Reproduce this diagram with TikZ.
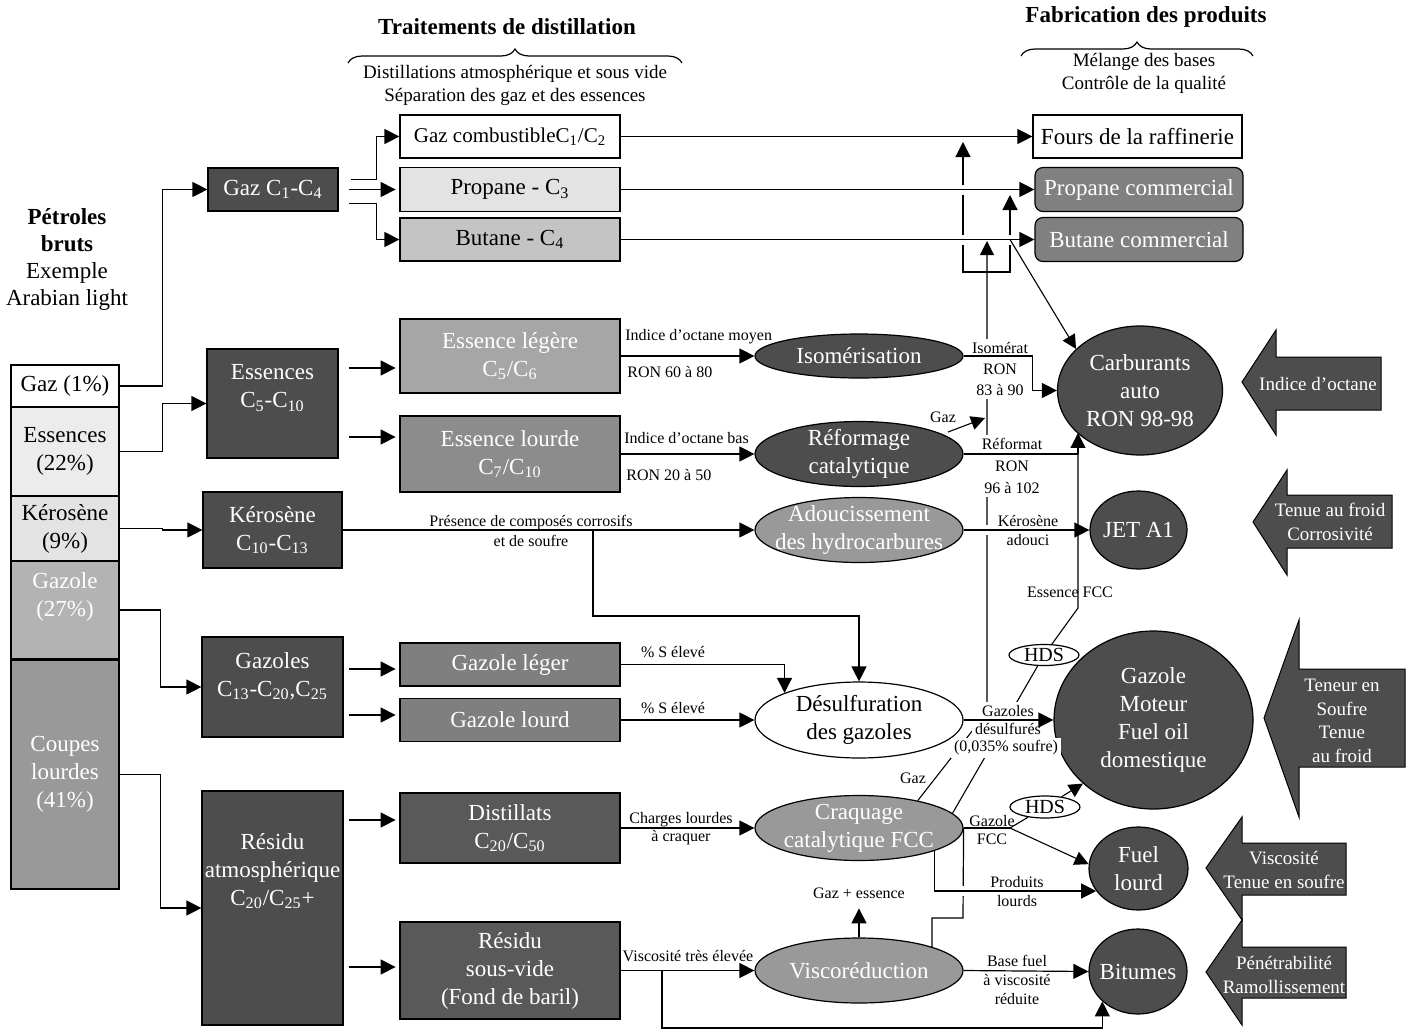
\documentclass[tikz,border=0pt]{standalone}
\usepackage{fontspec}
\setmainfont{Liberation Serif}
\usepackage{tikz}
\usetikzlibrary{arrows.meta,calc,positioning,shapes.geometric,decorations.pathreplacing}
\definecolor{darkfill}{HTML}{4D4D4D}
\definecolor{midfill}{HTML}{999999}
\definecolor{prodfill}{HTML}{808080}
\definecolor{distfill}{HTML}{595959}
\definecolor{gzfill}{HTML}{7F7F7F}
\definecolor{elegfill}{HTML}{A6A6A6}
\definecolor{eloufill}{HTML}{8C8C8C}
\definecolor{cthreefill}{HTML}{E3E3E3}
\definecolor{cfourfill}{HTML}{C4C4C4}
\definecolor{essfill}{HTML}{ECECEC}
\definecolor{kerfill}{HTML}{E3E3E3}
\definecolor{gzlfill}{HTML}{B3B3B3}
\tikzset{
  unit/.style={draw,line width=0.6pt,align=center,inner sep=1pt,
    font=\fontsize{11.5}{14}\selectfont},
  crudecut/.style={unit,minimum width=54pt},
  darkbox/.style={unit,fill=darkfill,text=white},
  boxtext/.style={align=center,inner sep=0pt,text=white,
    font=\fontsize{11.5}{14}\selectfont},
  basebox/.style={unit,minimum width=110pt},
  proc/.style={unit,ellipse,minimum width=104pt,inner xsep=-8pt,inner ysep=-8pt},
  prod/.style={unit,ellipse,fill=darkfill,text=white,inner sep=-8pt},
  hds/.style={unit,ellipse,fill=white,inner sep=0pt,minimum width=35pt,
    minimum height=10.5pt,font=\fontsize{10}{12}\selectfont},
  flowtag/.style={font=\fontsize{8}{9.5}\selectfont,inner sep=1pt,align=center},
  masktag/.style={flowtag,fill=white,inner sep=1.5pt},
  headtext/.style={font=\fontsize{11.5}{14}\selectfont\bfseries},
  subhead/.style={font=\fontsize{9.5}{11.5}\selectfont,align=center},
  flow/.style={-{Triangle[length=7.5pt,width=7.5pt]},line width=0.6pt},
  flowboth/.style={{Triangle[length=7.5pt,width=7.5pt]}-{Triangle[length=7.5pt,width=7.5pt]},line width=0.6pt},
  thinflow/.style={-{Triangle[length=7pt,width=7pt]},line width=0.55pt},
  link/.style={line width=0.6pt},
  thinlink/.style={line width=0.55pt},
  jump/.style={preaction={draw=white,line width=5pt,-,shorten <=4pt,shorten >=4pt}},
  hbrace/.style={decorate,decoration={brace,amplitude=7pt},line width=0.6pt},
  attr/.style={fill=darkfill,draw=black,line width=0.5pt},
  attrtext/.style={text=white,align=center,inner sep=0pt,font=\fontsize{9.5}{12}\selectfont}
}

\begin{document}
\begin{tikzpicture}[x=0.5pt,y=-0.5pt]
  \useasboundingbox (0,0) rectangle (1409,1035);
  % Headers
  \node[headtext] (hdist) at (507,27) {Traitements de distillation};
  \draw[hbrace] (348,63) -- (682,63);
  \node[subhead] (sdist) at (515,85) {Distillations atmosphérique et sous vide\\Séparation des gaz et des essences};
  \node[headtext] (hfab) at (1146,17) {Fabrication des produits};
  \draw[hbrace] (1021,56) -- (1253,56);
  \node[subhead] (sfab) at (1144,73.5) {Mélange des bases\\Contrôle de la qualité};
  \node[align=center,font=\fontsize{11.5}{13.5}\selectfont] (crude) at (67,259) {\textbf{Pétroles}\\\textbf{bruts}\\Exemple\\Arabian light};

  % Crude oil cuts
  \node[crudecut,minimum height=21pt] (gaz1) at (65,386) {Gaz (1\%)};
  \node[crudecut,fill=essfill,minimum height=44.5pt] (ess22) at (65,451.5) {Essences\\(22\%)};
  \node[crudecut,fill=kerfill,minimum height=32.5pt] (ker9) at (65,528.5) {Kérosène\\(9\%)};
  \node[crudecut,fill=gzlfill,minimum height=49pt] (gaz27) at (65,610) {};
  \node[boxtext] (gaz27t) at (65,597) {Gazole\\(27\%)};
  \node[crudecut,fill=midfill,text=white,minimum height=114.5pt] (coupes) at (65,774.5) {Coupes\\lourdes\\(41\%)};

  % Distillation cuts
  \node[darkbox,minimum width=65pt,minimum height=21.5pt] (gazc) at (273,189.5) {Gaz C\textsubscript{1}-C\textsubscript{4}};
  \node[darkbox,minimum width=65.5pt,minimum height=54.5pt] (ess) at (272.5,403.5) {};
  \node[boxtext] (esst) at (272.5,388) {Essences\\C\textsubscript{5}-C\textsubscript{10}};
  \node[darkbox,minimum width=69.5pt,minimum height=38pt] (kero) at (272.5,530) {Kérosène\\C\textsubscript{10}-C\textsubscript{13}};
  \node[darkbox,minimum width=70.5pt,minimum height=50pt] (gazs) at (272.5,687) {};
  \node[boxtext] (gazst) at (272.5,676) {Gazoles\\C\textsubscript{13}-C\textsubscript{20},C\textsubscript{25}};
  \node[darkbox,minimum width=70.5pt,minimum height=117pt] (resa) at (272.5,908) {};
  \node[boxtext] (resat) at (272.5,871) {Résidu\\atmosphérique\\C\textsubscript{20}/C\textsubscript{25}+};

  % Bases
  \node[basebox,minimum height=21.5pt,font=\fontsize{10.5}{14}\selectfont] (gcomb) at (510,136.5) {Gaz combustibleC\textsubscript{1}/C\textsubscript{2}};
  \node[basebox,fill=cthreefill,minimum height=22pt] (prop) at (510,189.5) {Propane - C\textsubscript{3}};
  \node[basebox,fill=cfourfill,minimum height=21.5pt] (but) at (510,239.5) {Butane - C\textsubscript{4}};
  \node[basebox,fill=elegfill,text=white,minimum height=37pt] (eleg) at (510,356) {Essence légère\\C\textsubscript{5}/C\textsubscript{6}};
  \node[basebox,fill=eloufill,text=white,minimum height=38pt] (elou) at (510,454) {Essence lourde\\C\textsubscript{7}/C\textsubscript{10}};
  \node[basebox,fill=gzfill,text=white,minimum height=21.5pt] (gleg) at (510,664.5) {Gazole léger};
  \node[basebox,fill=gzfill,text=white,minimum height=21.5pt] (glou) at (510,720) {Gazole lourd};
  \node[basebox,fill=distfill,text=white,minimum height=35pt] (dist) at (510,828) {Distillats\\C\textsubscript{20}/C\textsubscript{50}};
  \node[basebox,fill=distfill,text=white,minimum height=48.5pt] (rsv) at (510,970.5) {Résidu\\sous-vide\\(Fond de baril)};

  % Conversion units
  \node[proc,fill=darkfill,text=white,minimum height=22pt] (iso) at (859,356) {Isomérisation};
  \node[proc,fill=darkfill,text=white,minimum height=32.5pt] (refo) at (859,454) {Réformage\\catalytique};
  \node[proc,fill=midfill,text=white,minimum height=32.5pt] (adou) at (859,530) {Adoucissement\\des hydrocarbures};
  \node[proc,fill=white,minimum height=38pt] (desu) at (859,720) {Désulfuration\\des gazoles};
  \node[proc,fill=midfill,text=white,minimum height=32.5pt] (craq) at (859,828) {Craquage\\catalytique FCC};
  \node[proc,fill=midfill,text=white,minimum height=32.5pt] (visc) at (859,970.5) {Viscoréduction};
  \node[hds] (hdsup) at (1044,655) {HDS};
  \node[hds,minimum height=11pt] (hdslo) at (1045,807) {HDS};

  % Products
  \node[unit,minimum width=104.5pt,minimum height=21.5pt] (fours) at (1137.5,136.5) {Fours de la raffinerie};
  \node[unit,rounded corners=4pt,fill=prodfill,text=white,minimum width=104pt,minimum height=22pt] (propc) at (1139,189.5) {Propane commercial};
  \node[unit,rounded corners=4pt,fill=prodfill,text=white,minimum width=104pt,minimum height=22pt] (butc) at (1139,239.5) {Butane commercial};
  \node[prod,minimum width=82.5pt,minimum height=64.5pt] (carb) at (1140,390.5) {Carburants\\auto\\RON 98-98};
  \node[prod,minimum width=48.5pt,minimum height=39pt] (jet) at (1138.5,530) {JET A1};
  \node[prod,minimum width=99.5pt,minimum height=89pt] (gmot) at (1153.5,720) {Gazole\\Moteur\\Fuel oil\\domestique};
  \node[prod,minimum width=49.5pt,minimum height=41.5pt] (fuel) at (1138.5,868.5) {Fuel\\lourd};
  \node[prod,minimum width=49pt,minimum height=42.5pt] (bit) at (1138,971.5) {Bitumes};

  % Quality specifications
  \filldraw[attr] (1242,382) -- (1276,330) -- (1276,357) -- (1381,357) -- (1381,410) -- (1276,410) -- (1276,435) -- cycle;
  \node[attrtext] (qoct) at (1318,384) {Indice d’octane};
  \filldraw[attr] (1253,522) -- (1287,470) -- (1287,495) -- (1392,495) -- (1392,548) -- (1287,548) -- (1287,575) -- cycle;
  \node[attrtext] (qjet) at (1330,522) {Tenue au froid\\Corrosivité};
  \filldraw[attr] (1264,718) -- (1299,620) -- (1299,669) -- (1405,669) -- (1405,767) -- (1299,767) -- (1299,817) -- cycle;
  \node[attrtext,font=\fontsize{9.5}{11.75}\selectfont] (qgaz) at (1342,721) {Teneur en\\Soufre\\Tenue\\au froid};
  \filldraw[attr] (1206,868) -- (1242,817) -- (1242,843) -- (1346,843) -- (1346,895) -- (1242,895) -- (1242,920) -- cycle;
  \node[attrtext] (qfuel) at (1284,870) {Viscosité\\Tenue en soufre};
  \filldraw[attr] (1206,972) -- (1242,920) -- (1242,947) -- (1346,947) -- (1346,998) -- (1242,998) -- (1242,1025) -- cycle;
  \node[attrtext] (qbit) at (1284,975) {Pénétrabilité\\Ramollissement};

  % Crude to distillation cuts
  \draw[flow] (gaz1.east) -- ++(43,0) |- (gazc.west);
  \draw[flow] (ess22.east) -- ++(43,0) |- (ess.west);
  \draw[flow] (ker9.east) -- ++(43,0) |- (kero.west);
  \draw[flow] (gaz27.east) -- ++(41,0) |- (gazs.west);
  \draw[flow] (coupes.east) -- ++(41,0) |- (resa.west);

  % Cuts to bases
  \draw[flow] ([shift={(12,-10)}]gazc.east) -- ++(26,0) |- (gcomb.west);
  \draw[flow] ([shift={(10,0)}]gazc.east) -- ++(47,0);
  \draw[flow] ([shift={(10,14)}]gazc.east) -- ++(28,0) |- (but.west);
  \draw[flow] ([shift={(10,-35.5)}]ess.east) -- ++(47,0);
  \draw[flow] ([shift={(10,33.5)}]ess.east) -- ++(47,0);
  \draw[flow] ([shift={(5,-18)}]gazs.east) -- ++(47,0);
  \draw[flow] ([shift={(5,28)}]gazs.east) -- ++(47,0);
  \draw[flow] ([shift={(5,-88)}]resa.east) -- ++(47,0);
  \draw[flow] ([shift={(5,59)}]resa.east) -- ++(47,0);

  % Bases to units
  \draw[flow] (eleg.east) -- (iso.west);
  \draw[flow] (elou.east) -- (refo.west);
  \draw[flow] (kero.east) -- (adou.west);
  \coordinate (jker) at (593,530);
  \draw[flow] (jker) -- ++(0,86) -| (desu.north);
  \draw[flow] (gleg.east) -| (desu.160);
  \draw[flow] (glou.east) -- (desu.west);
  \draw[flow] (dist.east) -- (craq.west);
  \draw[flow] (rsv.east) -- (visc.west);
  \coordinate (jrsv) at (662,970.5);
  \draw[flow] (jrsv) -- ++(0,57.5) -| (bit.220);
  \draw[flow] (visc.north) -- ++(0,-29);

  % Gas collection
  \coordinate (tfours) at (963,142);
  \coordinate (jbrl) at (963,272);
  \coordinate (jbrr) at (1010,272);
  \coordinate (tprop) at (1010,195);
  \draw[flowboth] (tfours) -- (jbrl) -- (jbrr) -- (tprop);
  \draw[flow] (gcomb.east) -- (fours.west);
  \draw[flow,jump] (prop.east) -- (propc.west);
  \draw[flow,jump] (but.east) -- (butc.west);
  \coordinate (jgaz) at (987,712);
  \coordinate (tbut) at (987,241);
  \draw[thinflow] (craq.25) -- (jgaz) -- (tbut);
  \coordinate (jbc) at (1010,239.5);
  \draw[thinflow] (jbc) -- (carb.147);
  \coordinate (gref) at (948,432);
  \coordinate (tgref) at (985,418);
  \draw[thinflow] (gref) -- (tgref);
  \coordinate (jfcc) at (1078,608);
  \coordinate (jref) at (1078,454);
  \draw[thinlink] (craq.9) -- (hdsup) -- (jfcc) -- (jref);
  \coordinate (jvf) at (963,918);
  \draw[link] (visc.18) |- (jvf) -- (craq.east);

  % Masked labels
  \node[masktag,font=\fontsize{8}{10.5}\selectfont] (tisom) at (1000,369) {Isomérat\\RON\\83 à 90};
  \node[masktag,font=\fontsize{8}{11}\selectfont] (treft) at (1012,466) {Réformat\\RON\\96 à 102};
  \node[masktag,font=\fontsize{8}{9.25}\selectfont] (tgdes) at (1008,720) {Gazoles\\désulfurés};
  \node[masktag] (tsouf) at (1006,748) {(0,035\% soufre)};

  % Blending lines
  \draw[flow] (iso.east) -- ++(69,0) |- (carb.west);
  \draw[link] (refo.east) -- (jref);
  \draw[flow] (jref) -- (jref |- carb.214);
  \draw[flow] (desu.east) -- (gmot.west);
  \draw[flow,jump] (adou.east) -- (jet.west);
  \coordinate (jgf) at (1010,828);
  \draw[link] (craq.east) -- (jgf);
  \draw[thinflow] (jgf) -- (hdslo) -- (gmot.222);
  \draw[thinflow] (jgf) -- (fuel.175);
  \draw[flow,jump] (craq.-17) |- (fuel.208);
  \draw[flow] (visc.east) -- (bit.west);

  % Stream labels
  \node[flowtag,anchor=west] (toctm) at (623,337) {Indice d’octane moyen};
  \node[flowtag,anchor=west] (tronm) at (625,372) {RON 60 à 80};
  \node[flowtag,anchor=west] (toctb) at (622,438) {Indice d’octane bas};
  \node[flowtag,anchor=west] (tronb) at (624,475) {RON 20 à 50};
  \node[flowtag,font=\fontsize{8}{10}\selectfont] (tcorr) at (531,531) {Présence de composés corrosifs\\et de soufre};
  \node[flowtag] (tsleg) at (673,652) {\% S élevé};
  \node[flowtag] (tslou) at (673,708) {\% S élevé};
  \node[flowtag,font=\fontsize{8}{9}\selectfont] (tchg) at (681,829) {Charges lourdes\\à craquer};
  \node[flowtag] (tvis) at (688,956) {Viscosité très élevée};
  \node[flowtag] (tgazr) at (943,417) {Gaz};
  \node[flowtag] (tgazf) at (913,778) {Gaz};
  \node[flowtag] (tgess) at (859,893) {Gaz + essence};
  \node[flowtag] (tkad) at (1028,530.5) {Kérosène\\adouci};
  \node[flowtag] (tessf) at (1070,592) {Essence FCC};
  \node[flowtag,font=\fontsize{8}{9}\selectfont] (tgfcc) at (992,830.5) {Gazole\\FCC};
  \node[flowtag] (tprl) at (1017,891.5) {Produits\\lourds};
  \node[flowtag] (tbase) at (1017,980) {Base fuel\\à viscosité\\réduite};
\end{tikzpicture}
\end{document}
